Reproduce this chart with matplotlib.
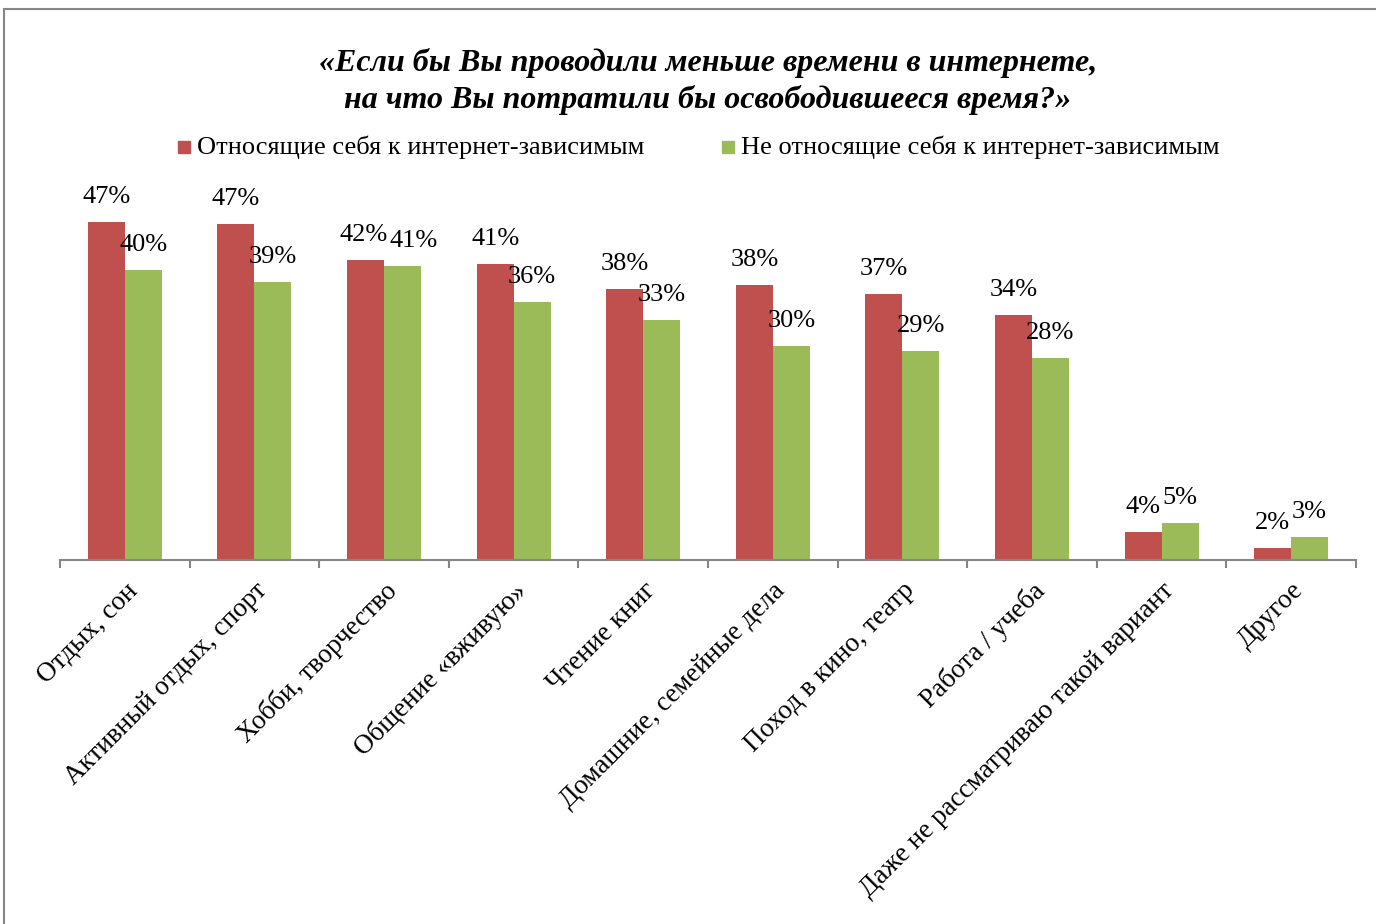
import matplotlib
matplotlib.use("Agg")
import matplotlib.pyplot as plt
from matplotlib.patches import Rectangle
import numpy as np

categories = ["Отдых, сон", "Активный отдых, спорт", "Хобби, творчество",
              "Общение «вживую»", "Чтение книг", "Домашние, семейные дела",
              "Поход в кино, театр", "Работа / учеба",
              "Даже не рассматриваю такой вариант", "Другое"]
dependent = [47.0, 46.6, 41.7, 41.1, 37.7, 38.2, 37.0, 34.0, 3.9, 1.7]
not_dependent = [40.3, 38.6, 40.9, 35.9, 33.4, 29.7, 29.0, 28.0, 5.1, 3.2]
series_names = ["Относящие себя к интернет-зависимым",
                "Не относящие себя к интернет-зависимым"]
title_lines = ["«Если бы Вы проводили меньше времени в интернете,",
               "на что Вы потратили бы освободившееся время?»"]

RED = "#C0504D"
GREEN = "#9BBB59"
AXC = "#868686"
FONT = "Liberation Serif"

plt.rcParams['font.family'] = [FONT, 'DejaVu Serif']

W, H = 1376, 924
fig = plt.figure(figsize=(W / 100, H / 100), dpi=100)

def fx(px):
    return px / W

def fy(py):
    return 1 - py / H

# outer chart frame (right and bottom edges lie outside the image)
fig.patches.append(Rectangle((fx(4), fy(1000)), fx(1500), fy(9) - fy(1000),
                             transform=fig.transFigure, fill=False,
                             edgecolor=AXC, linewidth=1.5))

ax = fig.add_axes([fx(60), fy(560), fx(1356) - fx(60), fy(200) - fy(560)])
x = np.arange(len(categories))
bw = 0.285
b1 = ax.bar(x - bw / 2, dependent, bw, color=RED, label=series_names[0])
b2 = ax.bar(x + bw / 2, not_dependent, bw, color=GREEN, label=series_names[1])

LABEL_FS = 19
for k, (bars, vals) in enumerate(((b1, dependent), (b2, not_dependent))):
    for i, (rect, v) in enumerate(zip(bars, vals)):
        other = not_dependent[i] if k == 0 else dependent[i]
        # nudge labels apart when the pair of labels sits at almost the same height
        dx = 0
        if abs(v - other) < 1:
            dx = -1.5 if k == 0 else 8
        ax.annotate(f"{round(v):d}%", (rect.get_x() + rect.get_width() / 2, v),
                    xytext=(dx, 18), textcoords="offset points",
                    ha="center", va="center", fontsize=LABEL_FS, color="black")

ax.set_xlim(-0.5, len(categories) - 0.5)
ax.set_ylim(0, 50)
ax.set_yticks([])
for s in ("top", "right", "left"):
    ax.spines[s].set_visible(False)
ax.spines["bottom"].set_color(AXC)
ax.spines["bottom"].set_linewidth(1.5)
ax.set_xticks(np.arange(len(categories) + 1) - 0.5)
ax.set_xticklabels([])
ax.tick_params(axis="x", direction="out", length=6, width=1.5, color=AXC)
ax.set_xticks(x, minor=True)
ax.set_xticklabels(categories, minor=True, rotation=45, ha="right", va="top",
                   rotation_mode="anchor", fontsize=19.5)
ax.tick_params(axis="x", which="minor", length=0, pad=13)
ax.patch.set_alpha(0)

# title
fig.text(fx(708), fy(63), title_lines[0], ha="center", va="center",
         fontsize=23, fontweight="bold", fontstyle="italic")
fig.text(fx(708), fy(100), title_lines[1], ha="center", va="center",
         fontsize=23, fontweight="bold", fontstyle="italic")

# legend
for sx, tx, col, name in ((178, 197, RED, series_names[0]),
                          (722, 741, GREEN, series_names[1])):
    fig.patches.append(Rectangle((fx(sx), fy(153)), fx(12), fy(141) - fy(153),
                                 transform=fig.transFigure, color=col))
    fig.text(fx(tx), fy(147), name, ha="left", va="center", fontsize=19)

fig.savefig("out.png", dpi=100)
